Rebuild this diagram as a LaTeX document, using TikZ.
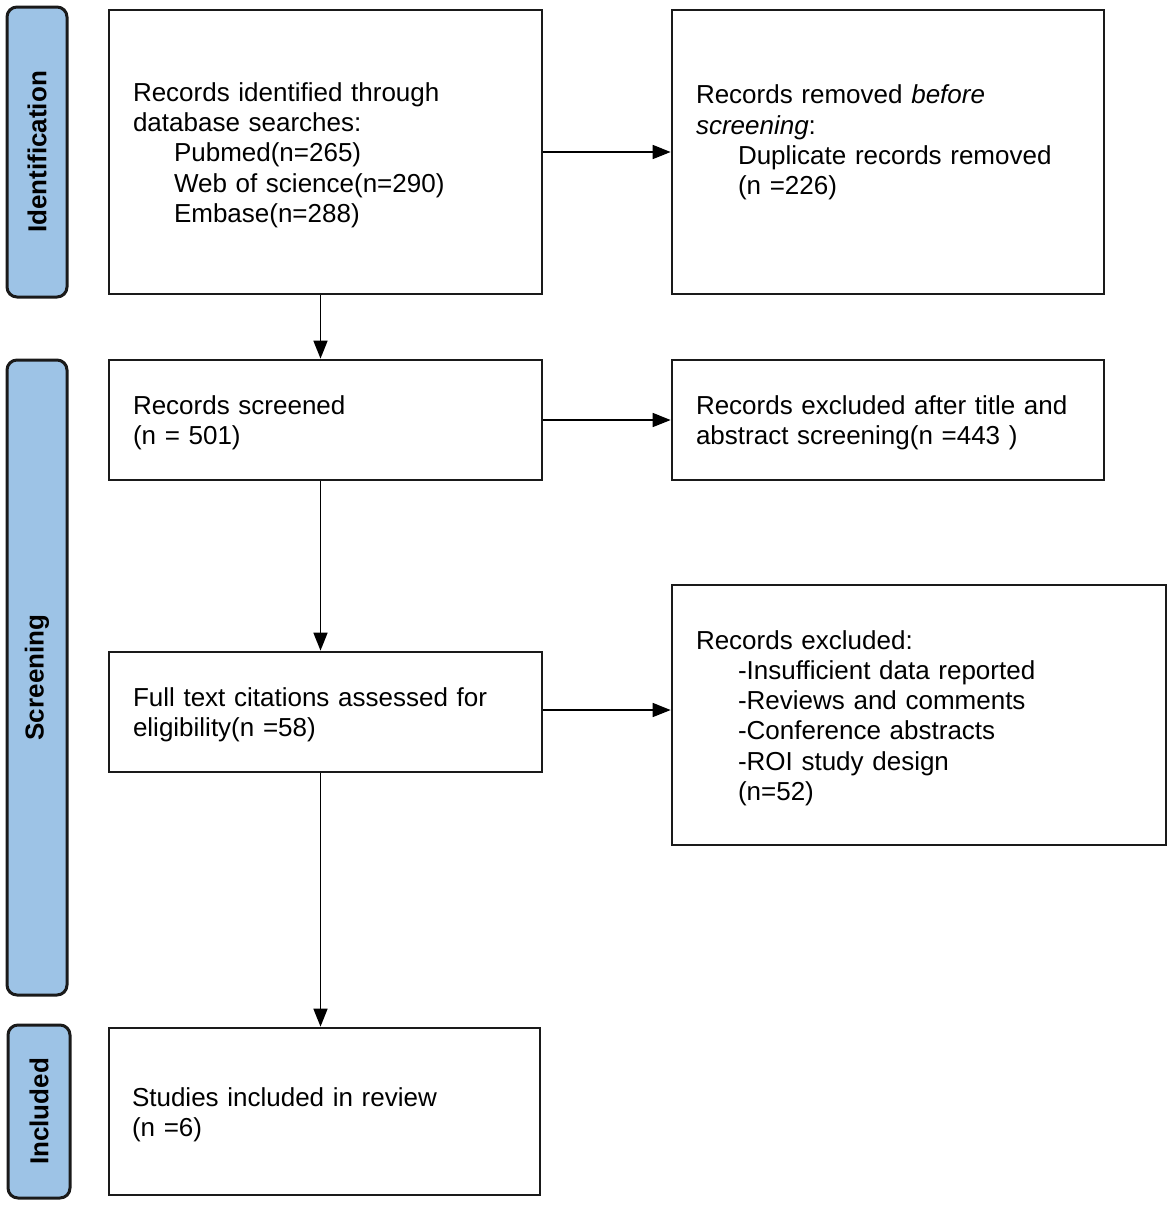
\documentclass[tikz,border=0pt]{standalone}
\usepackage{fontspec}
\setmainfont{Liberation Sans}
\usetikzlibrary{arrows.meta,calc}
\definecolor{barblue}{HTML}{9DC3E6}
\definecolor{edge}{HTML}{1A1A1A}
\begin{document}
\begin{tikzpicture}[x=1pt,y=-1pt,
  phasebar/.style={draw=edge, line width=3pt, fill=barblue, rounded corners=10pt, inner sep=0pt},
  phaselabel/.style={font=\fontsize{26}{30}\selectfont\bfseries, rotate=90},
  box/.style={draw=edge, line width=2.7pt, fill=white, align=left, inner xsep=24pt, inner ysep=0pt,
    execute at begin node={\rule{0pt}{25pt}}, font=\fontsize{26}{30.3}\selectfont},
  conn/.style={draw=black, line width=1.5pt, -{Triangle[length=18pt,width=14pt]}}
]
\useasboundingbox (0,0) rectangle (1170,1205);
% phase bars
\node[phasebar, minimum width=60pt, minimum height=290pt] (idbar) at (37,152) {};
\node[phaselabel] (idlab) at (idbar.center) {Identification};
\node[phasebar, minimum width=60pt, minimum height=635pt] (scbar) at (37,677.5) {};
\node[phaselabel] (sclab) at (scbar.center) {Screening};
\node[phasebar, minimum width=62pt, minimum height=173pt] (inbar) at (39,1111.5) {};
\node[phaselabel] (inlab) at (inbar.center) {Included};
% boxes
\node[box, minimum width=433pt, minimum height=284pt, text width=385pt] (b1) at (325.5,152)
  {Records identified through\\database searches:\\\hspace*{41pt}Pubmed(n=265)\\\hspace*{41pt}Web of science(n=290)\\\hspace*{41pt}Embase(n=288)};
\node[box, execute at begin node={}, minimum width=432pt, minimum height=284pt, text width=384pt] (b2) at (888,152)
  {Records removed \textit{before}\\\textit{screening}:\\\hspace*{42pt}Duplicate records removed\\\hspace*{42pt}(n =226)\\\mbox{}};
\node[box, minimum width=433pt, minimum height=120pt, text width=385pt] (b3) at (325.5,420)
  {Records screened\\(n = 501)};
\node[box, minimum width=432pt, minimum height=120pt, text width=384pt] (b4) at (888,420)
  {Records excluded after title and\\abstract screening(n =443 )};
\node[box, minimum width=433pt, minimum height=120pt, text width=385pt] (b5) at (325.5,712)
  {Full text citations assessed for\\eligibility(n =58)};
\node[box, minimum width=494pt, minimum height=260pt, text width=446pt] (b6) at (919,715)
  {Records excluded:\\\hspace*{42pt}-Insufficient data reported\\\hspace*{42pt}-Reviews and comments\\\hspace*{42pt}-Conference abstracts\\\hspace*{42pt}-ROI study design\\\hspace*{42pt}(n=52)};
\node[box, minimum width=431pt, minimum height=167pt, text width=385pt, inner xsep=23pt] (b7) at (324.5,1111.5)
  {Studies included in review\\(n =6)};
% connectors
\draw[conn] (b1.east) -- (b2.west);
\draw[conn] ([xshift=-5pt]b1.south) -- ([xshift=-5pt]b1.south |- b3.north);
\draw[conn] (b3.east) -- (b4.west);
\draw[conn] ([xshift=-5pt]b3.south) -- ([xshift=-5pt]b3.south |- b5.north);
\draw[conn] ([yshift=2pt]b5.east) -- ([yshift=2pt]b5.east -| b6.west);
\draw[conn] ([xshift=-5pt]b5.south) -- ([xshift=-5pt]b5.south |- b7.north);
\end{tikzpicture}
\end{document}
